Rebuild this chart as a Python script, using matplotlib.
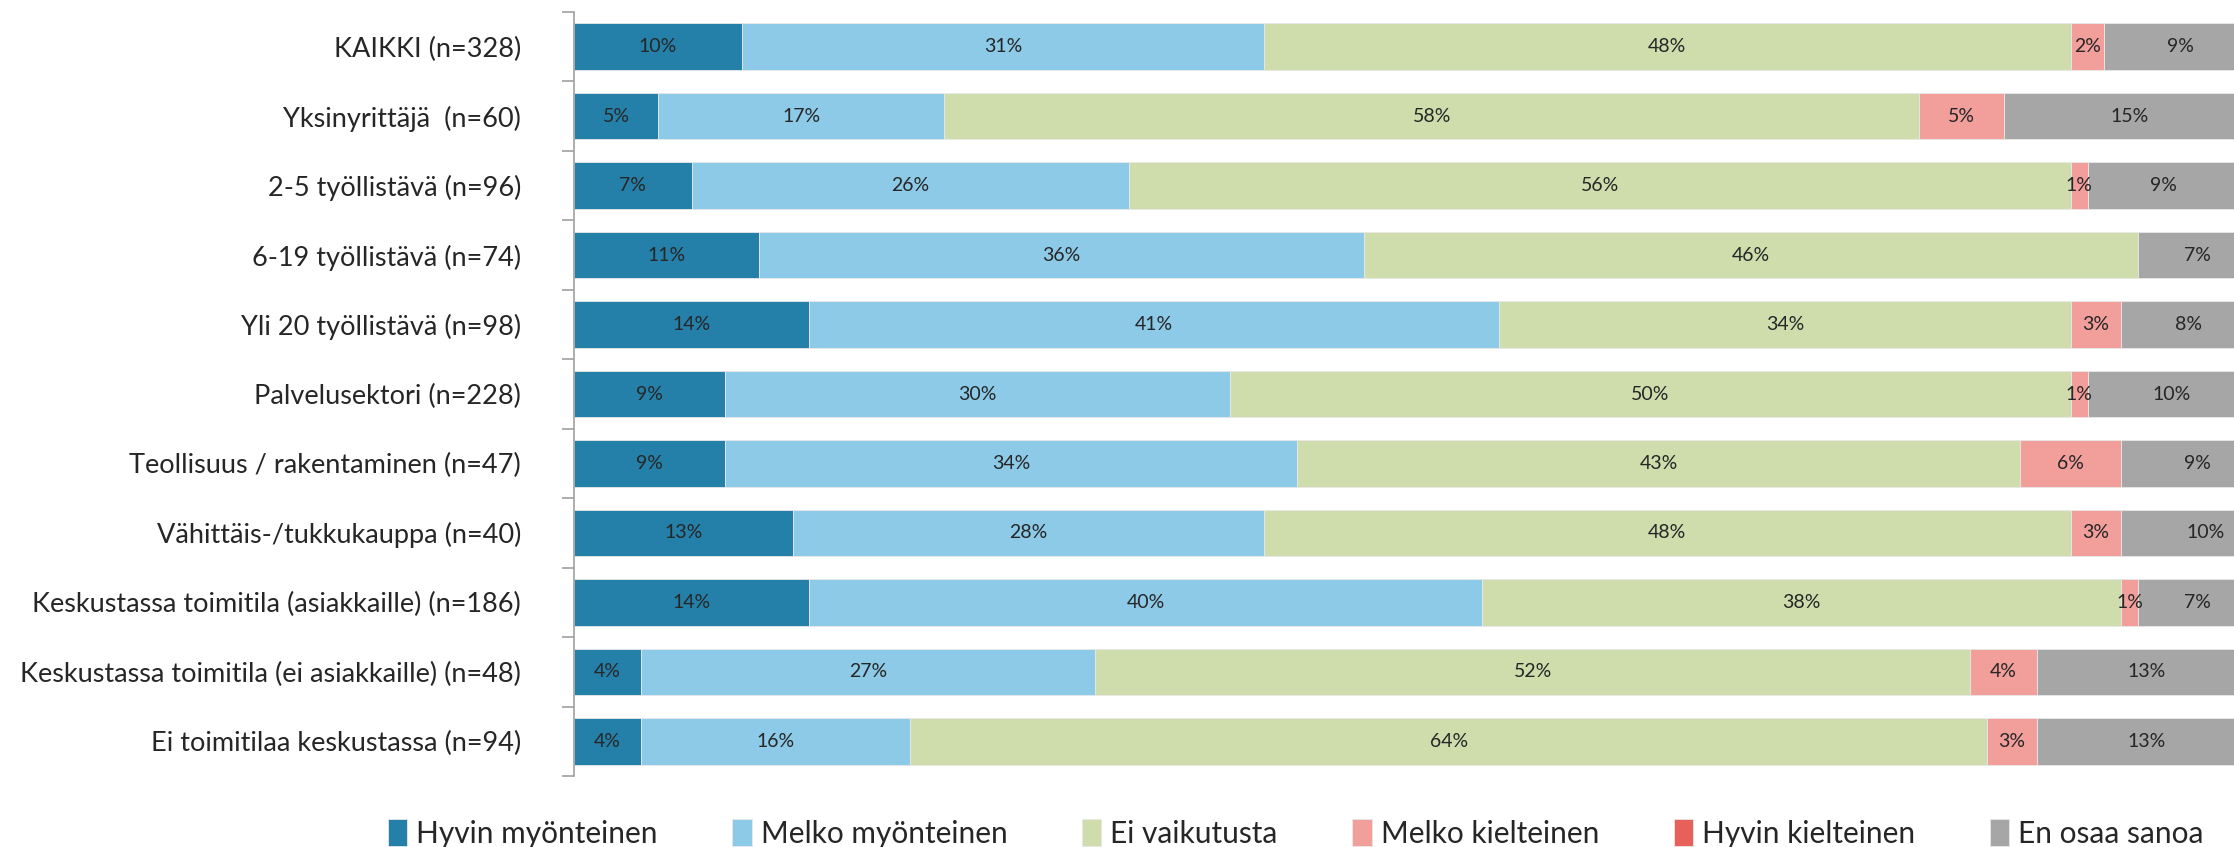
import matplotlib
matplotlib.use("Agg")
import matplotlib.pyplot as plt
import numpy as np

plt.rcParams["font.family"] = ["Lato", "DejaVu Sans"]

categories = [
    "KAIKKI (n=328)",
    "Yksinyrittäjä  (n=60)",
    "2-5 työllistävä (n=96)",
    "6-19 työllistävä (n=74)",
    "Yli 20 työllistävä (n=98)",
    "Palvelusektori (n=228)",
    "Teollisuus / rakentaminen (n=47)",
    "Vähittäis-/tukkukauppa (n=40)",
    "Keskustassa toimitila (asiakkaille) (n=186)",
    "Keskustassa toimitila (ei asiakkaille) (n=48)",
    "Ei toimitilaa keskustassa (n=94)",
]
series = ["Hyvin myönteinen", "Melko myönteinen", "Ei vaikutusta",
          "Melko kielteinen", "Hyvin kielteinen", "En osaa sanoa"]
colors = ["#2480a9", "#8ccae7", "#cfddad", "#f29e9a", "#e8605a", "#a6a6a6"]

hyvin_myonteinen = [10, 5, 7, 11, 14, 9, 9, 13, 14, 4, 4]
melko_myonteinen = [31, 17, 26, 36, 41, 30, 34, 28, 40, 27, 16]
ei_vaikutusta = [48, 58, 56, 46, 34, 50, 43, 48, 38, 52, 64]
melko_kielteinen = [2, 5, 1, 0, 3, 1, 6, 3, 1, 4, 3]
hyvin_kielteinen = [0, 0, 0, 0, 0, 0, 0, 0, 0, 0, 0]
en_osaa_sanoa = [9, 15, 9, 7, 8, 10, 9, 10, 7, 13, 13]

values = [hyvin_myonteinen, melko_myonteinen, ei_vaikutusta,
          melko_kielteinen, hyvin_kielteinen, en_osaa_sanoa]

fig = plt.figure(figsize=(22.34, 8.47), dpi=100)
ax = fig.add_axes([574 / 2234, 1 - 776 / 847, 1 - 574 / 2234, (776 - 12) / 847])

y = np.arange(len(categories))
left = np.zeros(len(categories))
for name, vals, col in zip(series, values, colors):
    w = np.array(vals) / 100
    ax.barh(y, w, left=left, height=0.67, color=col, edgecolor="#e8e8e8",
            linewidth=0.6, label=name)
    for yi, (l, v) in enumerate(zip(left, vals)):
        if v > 0:
            ax.text(l + v / 200, yi, f"{v}%", ha="center", va="center",
                    fontsize=14, color="#262626")
    left += w

# the original chart is cropped a little before the 100 % end
ax.set_xlim(0, 0.987)
ax.set_ylim(len(categories) - 0.5, -0.5)
ax.xaxis.set_visible(False)
for s in ("top", "right", "bottom"):
    ax.spines[s].set_visible(False)
ax.spines["left"].set_color("#a0a0a0")
ax.spines["left"].set_linewidth(1.2)

# tick marks at category boundaries, labels at centres (Excel style)
ax.set_yticks(np.arange(-0.5, len(categories), 1))
ax.set_yticklabels([])
ax.tick_params(axis="y", which="major", length=9, width=1.2, color="#a0a0a0")
ax.set_yticks(y, minor=True)
ax.set_yticklabels(categories, minor=True, fontsize=19.5, color="#262626")
ax.tick_params(axis="y", which="minor", length=0, pad=38)

handles, labels = ax.get_legend_handles_labels()
fig.legend(handles, labels, loc="center", bbox_to_anchor=(0.58, 0.016),
           ncol=6, frameon=False, fontsize=21.5, handlelength=0.65,
           handleheight=1.0, handletextpad=0.3, columnspacing=2.5,
           labelcolor="#262626")

fig.savefig("out.png", dpi=100)
